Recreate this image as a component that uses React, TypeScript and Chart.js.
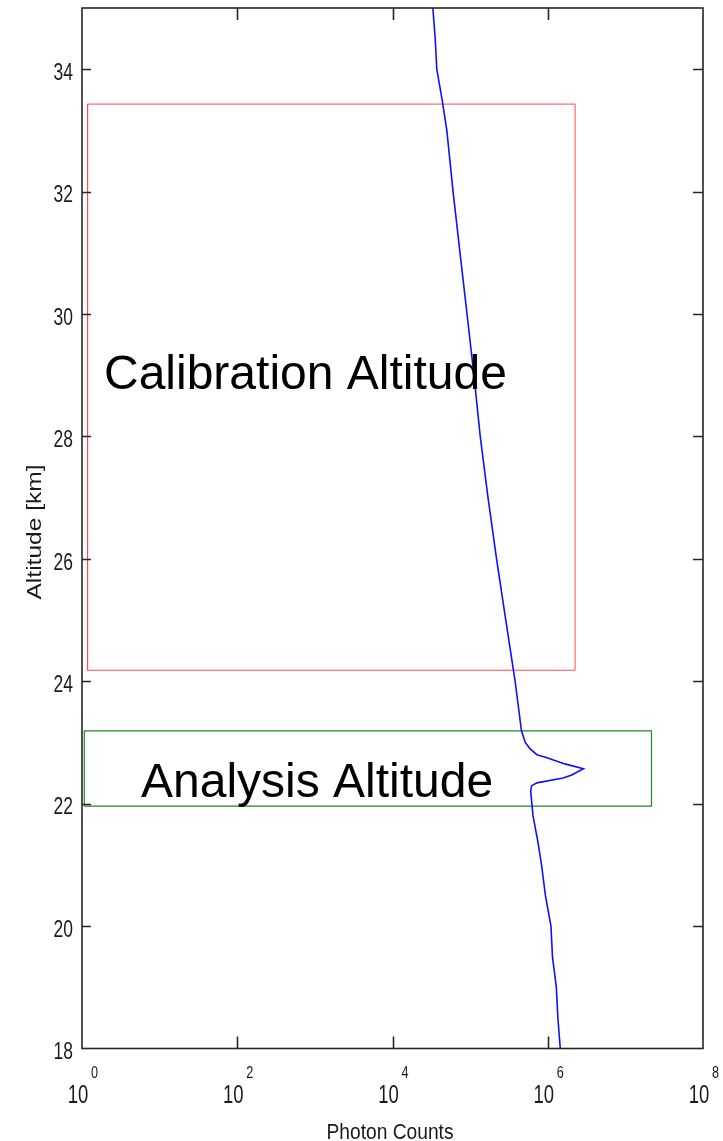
import { useEffect, useRef } from 'react';
import { Chart, registerables } from 'chart.js';

Chart.register(...registerables);

// Lidar return profile: altitude (km) against photon counts
const altitudeKm = [
  35.0, 34.5, 34.0, 33.5, 33.0, 32.0, 31.0, 30.0, 29.0, 28.0, 27.0, 26.0, 25.0, 24.0,
  23.5, 23.2, 23.0, 22.9, 22.8, 22.75, 22.65, 22.57, 22.47, 22.42, 22.34, 22.29, 22.2,
  21.8, 21.4, 21.0, 20.5, 20.0, 19.5, 19.0, 18.5, 18.0,
];
const photonCounts = [
  33100, 35500, 37200, 43600, 50100, 60300, 74100, 91200, 112000, 135000, 170000, 219000,
  288000, 380000, 427000, 457000, 513000, 589000, 724000, 977000, 1660000, 2880000,
  2040000, 1580000, 724000, 617000, 603000, 646000, 741000, 832000, 933000, 1100000,
  1150000, 1290000, 1350000, 1450000,
];

// Highlighted altitude windows (count range, altitude range)
const calibrationCounts = [1.18, 2.25e6];
const calibrationAltitude = [24.18, 33.43];
const analysisCounts = [1.07, 2.17e7];
const analysisAltitude = [21.96, 23.19];

// Axis ticks
const xTickExponents = [0, 2, 4, 6, 8];
const yTickValues = [18, 20, 22, 24, 26, 28, 30, 32, 34];

// Text annotations, anchored in data units (left edge, baseline)
const calibrationLabel = { text: 'Calibration Altitude', counts: 1.92, altitude: 28.78 };
const analysisLabel = { text: 'Analysis Altitude', counts: 5.75, altitude: 22.11 };

const FONT = '"Liberation Sans", Arial, sans-serif';

function boxPoints(cx: number[], ay: number[]) {
  return [
    { x: cx[0], y: ay[0] },
    { x: cx[1], y: ay[0] },
    { x: cx[1], y: ay[1] },
    { x: cx[0], y: ay[1] },
    { x: cx[0], y: ay[0] },
  ];
}

// Draws text squeezed/stretched horizontally by sx
function drawScaled(
  ctx: CanvasRenderingContext2D,
  text: string,
  x: number,
  y: number,
  size: number,
  sx: number,
  align: CanvasTextAlign,
) {
  ctx.save();
  ctx.font = `${size}px ${FONT}`;
  ctx.textAlign = align;
  ctx.textBaseline = 'alphabetic';
  ctx.translate(x, y);
  ctx.scale(sx, 1);
  ctx.fillText(text, 0, 0);
  ctx.restore();
}

function drawFitted(
  ctx: CanvasRenderingContext2D,
  text: string,
  x: number,
  y: number,
  size: number,
  width: number,
) {
  ctx.save();
  ctx.font = `${size}px ${FONT}`;
  const w = ctx.measureText(text).width;
  ctx.textAlign = 'center';
  ctx.textBaseline = 'alphabetic';
  ctx.translate(x, y);
  ctx.scale(width / w, 1);
  ctx.fillText(text, 0, 0);
  ctx.restore();
}

const matlabAxes = {
  id: 'matlabAxes',
  afterDatasetsDraw(chart: any) {
    const ctx: CanvasRenderingContext2D = chart.ctx;
    const { left, right, top, bottom } = chart.chartArea;
    const xs = chart.scales.x;
    const ys = chart.scales.y;

    // Annotation text
    ctx.save();
    ctx.fillStyle = '#000';
    ctx.font = `48px ${FONT}`;
    ctx.textAlign = 'left';
    ctx.textBaseline = 'alphabetic';
    for (const lab of [calibrationLabel, analysisLabel]) {
      ctx.fillText(lab.text, xs.getPixelForValue(lab.counts), ys.getPixelForValue(lab.altitude));
    }
    ctx.restore();

    // Frame
    ctx.save();
    ctx.strokeStyle = '#262626';
    ctx.lineWidth = 1.6;
    ctx.strokeRect(left, top, right - left, bottom - top);

    // Inward ticks on all four sides
    ctx.beginPath();
    for (const e of xTickExponents) {
      const px = Math.round(xs.getPixelForValue(Math.pow(10, e))) + 0.5;
      if (px <= left + 1 || px >= right - 1) continue;
      ctx.moveTo(px, bottom);
      ctx.lineTo(px, bottom - 12);
      ctx.moveTo(px, top);
      ctx.lineTo(px, top + 12);
    }
    for (const v of yTickValues) {
      const py = Math.round(ys.getPixelForValue(v)) + 0.5;
      if (py <= top + 1 || py >= bottom - 1) continue;
      ctx.moveTo(left, py);
      ctx.lineTo(left + 9, py);
      ctx.moveTo(right, py);
      ctx.lineTo(right - 10, py);
    }
    ctx.stroke();

    // Tick labels
    ctx.fillStyle = '#1a1a1a';
    for (const v of yTickValues) {
      const py = ys.getPixelForValue(v);
      drawScaled(ctx, String(v), left - 9, py + 10.7, 23, 0.76, 'right');
    }
    for (const e of xTickExponents) {
      const px = xs.getPixelForValue(Math.pow(10, e));
      drawScaled(ctx, '10', px + 6.3, 1103, 25, 0.74, 'right');
      drawScaled(ctx, String(e), px + 9, 1078, 16, 0.79, 'left');
    }

    // Axis titles
    drawFitted(ctx, 'Photon Counts', 390, 1139, 22, 127);
    ctx.save();
    ctx.translate(41, 532);
    ctx.rotate(-Math.PI / 2);
    drawFitted(ctx, 'Altitude [km]', 0, 0, 20, 135);
    ctx.restore();
    ctx.restore();
  },
};

export default function App() {
  const canvasRef = useRef<HTMLCanvasElement | null>(null);

  useEffect(() => {
    document.body.style.margin = '0';
    const canvas = canvasRef.current;
    if (!canvas) return;

    const profile = altitudeKm.map((a, i) => ({ x: photonCounts[i], y: a }));

    const chart = new Chart(canvas, {
      type: 'scatter',
      data: {
        datasets: [
          {
            label: 'Photon counts',
            data: profile,
            showLine: true,
            borderColor: '#1010ff',
            borderWidth: 1.6,
            pointRadius: 0,
            fill: false,
            tension: 0,
          },
          {
            label: 'Calibration Altitude',
            data: boxPoints(calibrationCounts, calibrationAltitude),
            showLine: true,
            borderColor: '#ff4a4a',
            borderWidth: 1,
            pointRadius: 0,
            fill: false,
          },
          {
            label: 'Analysis Altitude',
            data: boxPoints(analysisCounts, analysisAltitude),
            showLine: true,
            borderColor: '#1f861f',
            borderWidth: 1.2,
            pointRadius: 0,
            fill: false,
          },
        ],
      },
      options: {
        responsive: false,
        animation: false,
        devicePixelRatio: 1,
        layout: { padding: { top: 8, right: 20, left: 0, bottom: 0 } },
        plugins: {
          legend: { display: false },
          tooltip: { enabled: false },
        },
        scales: {
          x: {
            type: 'logarithmic',
            min: 1,
            max: 1e8,
            ticks: { display: false },
            grid: { display: false },
            border: { display: false },
            afterFit: (s: any) => {
              s.height = 92.5;
            },
          },
          y: {
            type: 'linear',
            min: 18,
            max: 35,
            ticks: { display: false },
            grid: { display: false },
            border: { display: false },
            afterFit: (s: any) => {
              s.width = 82;
            },
          },
        },
      },
      plugins: [matlabAxes],
    });

    return () => chart.destroy();
  }, []);

  return (
    <div style={{ position: 'absolute', left: 0, top: 0, width: 723, height: 1141, background: '#fff' }}>
      <canvas ref={canvasRef} width={723} height={1141} style={{ display: 'block' }} />
    </div>
  );
}
